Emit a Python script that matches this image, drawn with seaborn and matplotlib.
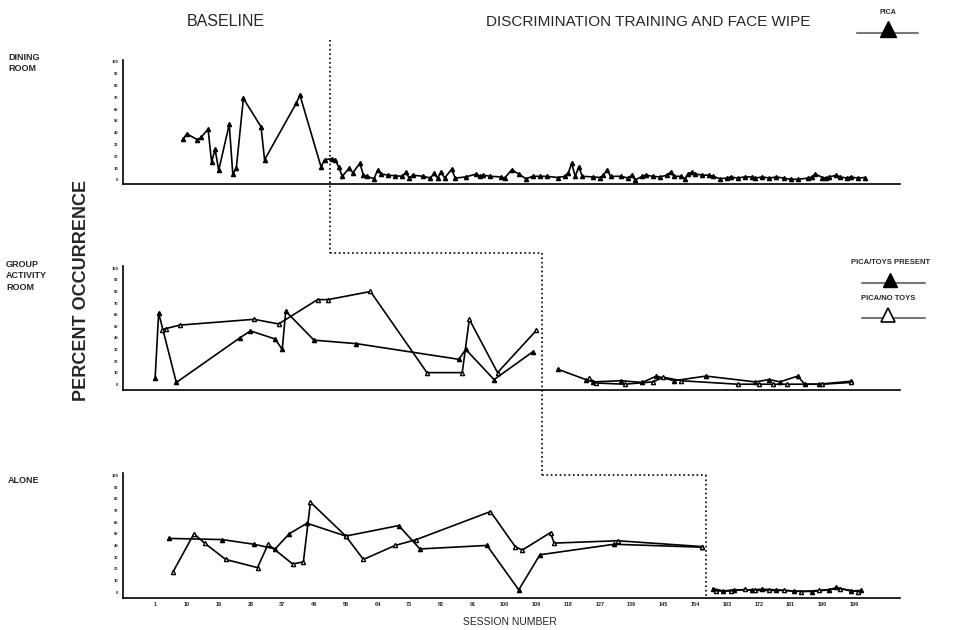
import matplotlib
matplotlib.use("Agg")
import matplotlib.pyplot as plt
import matplotlib.transforms as mtransforms
from matplotlib.lines import Line2D
import seaborn as sns

# Dining room (single series: pica)
dining_sessions = [9, 10, 13, 14, 16, 17, 18, 19, 22, 23, 24, 26, 31, 32, 41, 42, 48, 49,
                   51, 52, 53, 54, 56, 57, 59, 60, 61, 63, 64, 65, 67, 69, 71, 72, 73, 74, 77,
                   79, 80, 81, 82, 83, 85, 86, 89, 92, 93, 94, 96, 99, 100, 102, 104, 106, 108,
                   110, 112, 115, 117, 118, 119, 120, 121, 122, 125, 127, 128, 129, 130, 133,
                   135, 136, 137, 139, 140, 142, 144, 146, 147, 148, 150, 151, 152, 153, 154,
                   156, 158, 159, 161, 163, 164, 166, 168, 170, 171, 173, 175, 177, 179, 181,
                   183, 186, 187, 188, 190, 191, 192, 194, 195, 197, 198, 200, 202]
dining_pct = [35, 39, 34, 36, 43, 15, 26, 8, 47, 5, 10, 69, 45, 17, 65, 72, 11, 17,
              18, 17, 11, 3, 10, 6, 14, 4, 3, 1, 8, 5, 4, 3.5, 3, 6.5, 1.5, 4, 3,
              1.5, 5.5, 1.5, 7, 1.5, 9, 1.5, 2.5, 5, 3, 4, 3, 2.5, 1.5, 8.5, 5, 1, 3,
              3, 3, 2, 3, 5.5, 14, 3, 11, 3, 2.5, 2, 4, 8.5, 3, 3,
              1.5, 4, 0, 3, 4, 3, 2.5, 4, 6.5, 3, 3, 1, 5, 6.5, 5,
              4, 4, 3, 1, 1.5, 2.5, 1.5, 2.5, 2.5, 1.5, 2.5, 1.5, 2.5, 1.5, 0.5,
              0.5, 1.5, 2.5, 5, 2, 1.5, 2.5, 4, 2.5, 1.5, 2.5, 1.5, 2]

# Group activity room: baseline
group_bl_toys_sessions = [1, 2, 7, 25, 28, 35, 37, 38, 46, 58, 87, 89, 97, 108]
group_bl_toys_pct = [5, 61.5, 1.5, 40, 46, 39, 30, 63, 38, 35, 21.5, 30, 4, 28]
group_bl_notoys_sessions = [3, 4, 8, 29, 36, 47, 50, 62, 78, 88, 90, 98, 109]
group_bl_notoys_pct = [47, 48, 51, 56, 52, 73, 73, 80, 10, 10, 56, 10, 46.5]
# Group activity room: treatment
group_tr_toys_sessions = [115, 123, 125, 133, 139, 143, 148, 157, 171, 175, 178, 183, 185, 189, 198]
group_tr_toys_pct = [13, 4, 2, 3, 1.5, 7, 3, 7, 2, 4, 2, 7, 0, 0, 2.5]
group_tr_notoys_sessions = [124, 126, 134, 142, 145, 150, 166, 172, 176, 180, 190, 198]
group_tr_notoys_pct = [5, 1, 0, 2, 6, 3, 0, 0, 0, 0, 0, 1.5]

# Alone: baseline
alone_bl_toys_sessions = [5, 20, 29, 35, 39, 44, 55, 70, 76, 95, 104, 110, 131, 156]
alone_bl_toys_pct = [46, 45, 41, 37, 50, 59, 48, 57, 37, 40, 2, 32, 41, 38.5]
alone_bl_notoys_sessions = [6, 12, 15, 21, 30, 33, 40, 43, 45, 55, 60, 69, 75, 96, 103, 105,
                            113, 114, 132, 156]
alone_bl_notoys_pct = [17, 50, 42, 28, 21, 41, 24, 26, 77, 48, 28, 40, 45, 69, 39, 36,
                       51, 42, 44, 39]
# Alone: treatment
alone_tr_toys_sessions = [159, 162, 165, 170, 173, 177, 182, 187, 192, 194, 198, 201]
alone_tr_toys_pct = [3, 1, 2, 2, 2.5, 2, 1, 0.5, 2, 4, 1, 1.5]
alone_tr_notoys_sessions = [160, 164, 168, 171, 175, 179, 184, 189, 195, 200]
alone_tr_notoys_pct = [1, 1, 2.3, 1.5, 1.5, 1.5, 0.5, 1.5, 3, 0.5]

session_ticks = list(range(1, 200, 9))
pct_ticks = list(range(0, 101, 10))

sns.set_style("white")
plt.rcParams['font.family'] = ['Liberation Sans', 'DejaVu Sans']

W, H = 955, 630
fig = plt.figure(figsize=(W / 100, H / 100), dpi=100)


def fx(px):
    return px / W


def fy(py):
    return 1 - py / H


# axes boxes in pixels: left, top, right, bottom
boxes = [(123, 59.5, 900, 184), (123, 266, 900, 390), (123, 473, 900, 598)]
axes = []
for (l, t, r, b) in boxes:
    ax = fig.add_axes([fx(l), fy(b), fx(r) - fx(l), (b - t) / H])
    ax.patch.set_alpha(0)
    ax.set_xlim(-8.1, 212)
    ax.set_ylim(-5, 102)
    ax.set_xticks(session_ticks)
    ax.set_yticks(pct_ticks)
    ax.set_yticklabels([str(v) for v in pct_ticks], fontsize=3, fontweight="bold")
    ax.tick_params(axis="y", length=1.5, width=0.8, pad=2)
    ax.tick_params(axis="x", length=2, width=0.8, direction="inout", pad=2)
    for side in ["top", "right"]:
        ax.spines[side].set_visible(False)
    for side in ["left", "bottom"]:
        ax.spines[side].set_color("black")
        ax.spines[side].set_linewidth(1.2)
    axes.append(ax)

axes[0].set_ylim(-3.5, 102)
axes[0].set_xticklabels([])
axes[1].set_xticklabels([])
axes[2].set_xticklabels([str(v) for v in session_ticks], fontsize=4, fontweight="bold")

line_kw = dict(color="black", linewidth=1.2, marker="^", markersize=3,
               markeredgecolor="black", markeredgewidth=1, estimator=None, legend=False)


def draw(ax, xs, ys, open_marker=False):
    kw = dict(line_kw)
    kw["markerfacecolor"] = "white" if open_marker else "black"
    sns.lineplot(x=xs, y=ys, ax=ax, **kw)
    ax.set_xlabel("")
    ax.set_ylabel("")


draw(axes[0], dining_sessions, dining_pct)
draw(axes[1], group_bl_toys_sessions, group_bl_toys_pct)
draw(axes[1], group_bl_notoys_sessions, group_bl_notoys_pct, open_marker=True)
draw(axes[1], group_tr_toys_sessions, group_tr_toys_pct)
draw(axes[1], group_tr_notoys_sessions, group_tr_notoys_pct, open_marker=True)
draw(axes[2], alone_bl_toys_sessions, alone_bl_toys_pct)
draw(axes[2], alone_bl_notoys_sessions, alone_bl_notoys_pct, open_marker=True)
draw(axes[2], alone_tr_toys_sessions, alone_tr_toys_pct)
draw(axes[2], alone_tr_notoys_sessions, alone_tr_notoys_pct, open_marker=True)

# phase change lines (x in sessions, y in figure fraction)
phase = [(axes[0], 50.5, 40, 253, 110.5),
         (axes[1], 110.5, 253, 475, 157),
         (axes[2], 157, 475, 598, None)]
for ax, xs, ytop, ybot, xnext in phase:
    tr = mtransforms.blended_transform_factory(ax.transData, fig.transFigure)
    ax.plot([xs, xs], [fy(ytop), fy(ybot)], transform=tr, color="black",
            linestyle=":", linewidth=1.2, clip_on=False)
    if xnext is not None:
        ax.plot([xs, xnext], [fy(ybot), fy(ybot)], transform=tr, color="black",
                linestyle=":", linewidth=1.2, clip_on=False)

# texts
fig.text(fx(226), fy(22), "BASELINE", fontsize=11.5, ha="center", va="center")
fig.text(fx(648), fy(22), "DISCRIMINATION TRAINING AND FACE WIPE", fontsize=11,
         ha="center", va="center")
fig.text(fx(8), fy(53), "DINING\nROOM", fontsize=6.5, fontweight="bold", ha="left",
         va="top", linespacing=1.3)
fig.text(fx(6), fy(260), "GROUP\nACTIVITY\nROOM", fontsize=6.5, fontweight="bold",
         ha="left", va="top", linespacing=1.35)
fig.text(fx(8), fy(476), "ALONE", fontsize=6.5, fontweight="bold", ha="left", va="top")
fig.text(fx(82), fy(290), "PERCENT OCCURRENCE", fontsize=13, fontweight="bold",
         rotation=90, ha="center", va="center")
fig.text(fx(510), fy(622), "SESSION NUMBER", fontsize=7.5, ha="center", va="center")

# legend keys
fig.text(fx(888), fy(12), "PICA", fontsize=5, fontweight="bold", ha="center", va="center")
fig.add_artist(Line2D([fx(857), fx(918)], [fy(33), fy(33)], color="#777777", linewidth=1.5))
fig.add_artist(Line2D([fx(888)], [fy(29)], marker="^", markersize=11, color="black",
                      linestyle="none"))

fig.text(fx(891), fy(262), "PICA/TOYS PRESENT", fontsize=5.5, fontweight="bold",
         ha="center", va="center")
fig.add_artist(Line2D([fx(862), fx(925)], [fy(283), fy(283)], color="#777777", linewidth=1.5))
fig.add_artist(Line2D([fx(890)], [fy(280)], marker="^", markersize=10, color="black",
                      linestyle="none"))

fig.text(fx(888), fy(298), "PICA/NO TOYS", fontsize=5.5, fontweight="bold",
         ha="center", va="center")
fig.add_artist(Line2D([fx(862), fx(925)], [fy(318), fy(318)], color="#777777", linewidth=1.5))
fig.add_artist(Line2D([fx(888)], [fy(315)], marker="^", markersize=10, color="black",
                      markerfacecolor="white", markeredgewidth=1.2, linestyle="none"))

fig.savefig("out.png", dpi=100)
